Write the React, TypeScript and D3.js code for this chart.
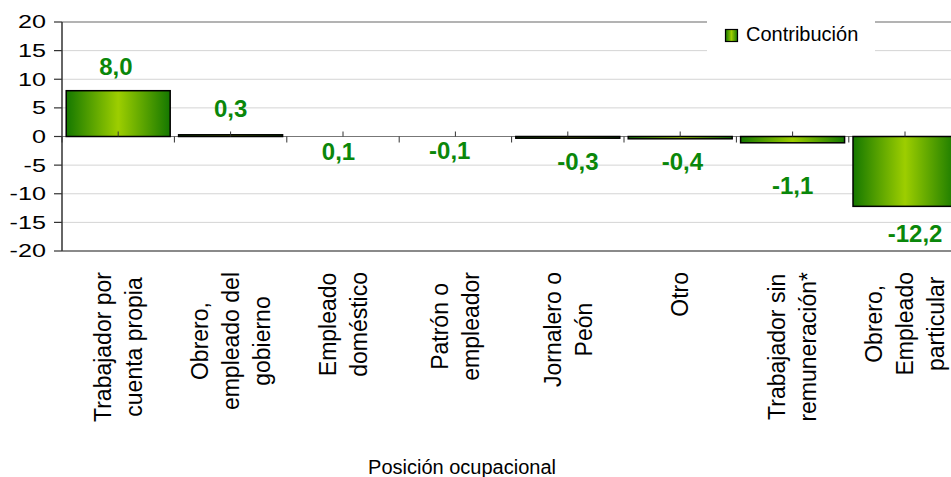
import { useEffect, useRef } from 'react';
import * as d3 from 'd3';

// data
const categories: string[][] = [
  ['Trabajador por', 'cuenta propia'],
  ['Obrero,', 'empleado del', 'gobierno'],
  ['Empleado', 'doméstico'],
  ['Patrón o', 'empleador'],
  ['Jornalero o', 'Peón'],
  ['Otro'],
  ['Trabajador sin', 'remuneración*'],
  ['Obrero,', 'Empleado', 'particular'],
];
const contribucion = [8.0, 0.3, 0.1, -0.1, -0.3, -0.4, -1.1, -12.2];
const yTicks = [-20, -15, -10, -5, 0, 5, 10, 15, 20];
const seriesName = 'Contribución';
const axisTitle = 'Posición ocupacional';

// hand-placed label anchors in the original (band fraction offset, value units)
const labelDx = [-0.02, 0, -0.04, -0.05, 0.09, 0.02, 0, 0.09];
const labelAt = [12.3, 4.9, -2.6, -2.4, -4.4, -4.3, -8.6, -16.9];

const W = 951;
const H = 477;
const FONT = '"Liberation Sans", Arial, Helvetica, sans-serif';
const GREEN = '#0a870a';

export default function App() {
  const ref = useRef<SVGSVGElement>(null);

  useEffect(() => {
    if (!ref.current) return;
    const svg = d3.select(ref.current);
    svg.selectAll('*').remove();

    const left = 62;
    const step = 112.4;
    const top = 22;
    const bottom = 251;

    const x = d3.scaleBand<number>()
      .domain(d3.range(categories.length))
      .range([left, left + step * categories.length])
      .paddingInner(0.075)
      .paddingOuter(0.0375);

    const y = d3.scaleLinear().domain([-20, 20]).range([bottom, top]);

    // gradient for bars
    const defs = svg.append('defs');
    const grad = defs.append('linearGradient')
      .attr('id', 'barGrad')
      .attr('x1', '0%').attr('x2', '100%')
      .attr('y1', '0%').attr('y2', '0%');
    grad.append('stop').attr('offset', '0%').attr('stop-color', '#157800');
    grad.append('stop').attr('offset', '50%').attr('stop-color', '#9dce00');
    grad.append('stop').attr('offset', '100%').attr('stop-color', '#157800');

    // gridlines
    svg.append('g')
      .selectAll('line')
      .data(yTicks.filter(t => t !== 0 && Math.abs(t) !== 20))
      .join('line')
      .attr('x1', left).attr('x2', W)
      .attr('y1', d => y(d)).attr('y2', d => y(d))
      .attr('stroke', '#d4d4d4')
      .attr('stroke-width', 1);

    // plot border top / bottom
    svg.append('line')
      .attr('x1', left).attr('x2', W)
      .attr('y1', y(20)).attr('y2', y(20))
      .attr('stroke', '#9a9a9a').attr('stroke-width', 1.5);
    svg.append('line')
      .attr('x1', left).attr('x2', W)
      .attr('y1', y(-20)).attr('y2', y(-20))
      .attr('stroke', '#8a8a8a').attr('stroke-width', 2);

    // legend box (covers the gridlines behind it)
    const legend = svg.append('g');
    legend.append('rect')
      .attr('x', 707).attr('y', 17)
      .attr('width', 168).attr('height', 36)
      .attr('fill', '#fff');
    legend.append('rect')
      .attr('x', 725.5).attr('y', 29.5)
      .attr('width', 12).attr('height', 12)
      .attr('fill', 'url(#barGrad)')
      .attr('stroke', '#000').attr('stroke-width', 1.2);
    legend.append('text')
      .attr('x', 746).attr('y', 41)
      .attr('font-family', FONT)
      .attr('font-size', 20)
      .attr('fill', '#000')
      .text(seriesName);

    // zero line
    svg.append('line')
      .attr('x1', left).attr('x2', W)
      .attr('y1', y(0)).attr('y2', y(0))
      .attr('stroke', '#777').attr('stroke-width', 1.2);

    // bars
    svg.append('g')
      .selectAll('rect')
      .data(contribucion.map((v, i) => ({ v, i })).filter(d => Math.abs(y(d.v) - y(0)) >= 1))
      .join('rect')
      .attr('x', d => x(d.i)!)
      .attr('width', x.bandwidth())
      .attr('y', d => Math.min(y(d.v), y(0)))
      .attr('height', d => Math.abs(y(d.v) - y(0)))
      .attr('fill', 'url(#barGrad)')
      .attr('stroke', '#000')
      .attr('stroke-width', 1.5);

    // category ticks: down at boundaries, up at centres
    const ticks = svg.append('g').attr('stroke', '#333').attr('stroke-width', 1);
    d3.range(categories.length + 1).forEach(i => {
      const bx = left + step * i;
      ticks.append('line')
        .attr('x1', bx).attr('x2', bx)
        .attr('y1', y(0)).attr('y2', y(0) + 6);
    });
    d3.range(categories.length).forEach(i => {
      const cx = x(i)! + x.bandwidth() / 2;
      ticks.append('line')
        .attr('x1', cx).attr('x2', cx)
        .attr('y1', y(0) - 5).attr('y2', y(0));
    });

    // y axis
    const yAxis = svg.append('g').attr('transform', `translate(${left},0)`);
    yAxis.append('line')
      .attr('x1', 0).attr('x2', 0)
      .attr('y1', y(20)).attr('y2', y(-20))
      .attr('stroke', '#333').attr('stroke-width', 1.5);
    const sx = 1.4;
    yTicks.forEach(t => {
      yAxis.append('line')
        .attr('x1', -8).attr('x2', 0)
        .attr('y1', y(t)).attr('y2', y(t))
        .attr('stroke', '#333').attr('stroke-width', 1.2);
      yAxis.append('text')
        .attr('transform', `translate(-16,${y(t)}) scale(${sx},1)`)
        .attr('text-anchor', 'end')
        .attr('dy', '0.36em')
        .attr('font-family', FONT)
        .attr('font-size', 18)
        .attr('fill', '#000')
        .text(String(t));
    });

    // value labels
    svg.append('g')
      .selectAll('text')
      .data(contribucion)
      .join('text')
      .attr('x', (_, i) => x(i)! + x.bandwidth() / 2 + labelDx[i] * step)
      .attr('y', (_, i) => y(labelAt[i]))
      .attr('dy', '0.36em')
      .attr('text-anchor', 'middle')
      .attr('font-family', FONT)
      .attr('font-weight', 'bold')
      .attr('font-size', 24)
      .attr('fill', GREEN)
      .text(d => d3.format('.1f')(d).replace('−', '-').replace('.', ','));

    // category labels, rotated, lines centred, block top at fixed y
    const lineH = 31;
    const labelTop = 272;
    categories.forEach((lines, i) => {
      const cx = x(i)! + x.bandwidth() / 2;
      const g = svg.append('g');
      const texts = lines.map((ln, j) =>
        g.append('text')
          .attr('x', 0)
          .attr('y', (j - (lines.length - 1) / 2) * lineH)
          .attr('dy', '0.36em')
          .attr('text-anchor', 'middle')
          .attr('font-family', FONT)
          .attr('font-size', 23)
          .attr('fill', '#000')
          .text(ln)
      );
      const maxLen = d3.max(texts, t => (t.node() as SVGTextElement).getComputedTextLength()) || 0;
      g.attr('transform', `translate(${cx},${labelTop + maxLen / 2}) rotate(-90)`);
    });

    // axis title
    svg.append('text')
      .attr('x', 462).attr('y', 474)
      .attr('text-anchor', 'middle')
      .attr('font-family', FONT)
      .attr('font-size', 20)
      .attr('fill', '#000')
      .text(axisTitle);
  }, []);

  return (
    <svg
      ref={ref}
      width={W}
      height={H}
      style={{ position: 'absolute', left: 0, top: 0, background: '#fff' }}
    />
  );
}
